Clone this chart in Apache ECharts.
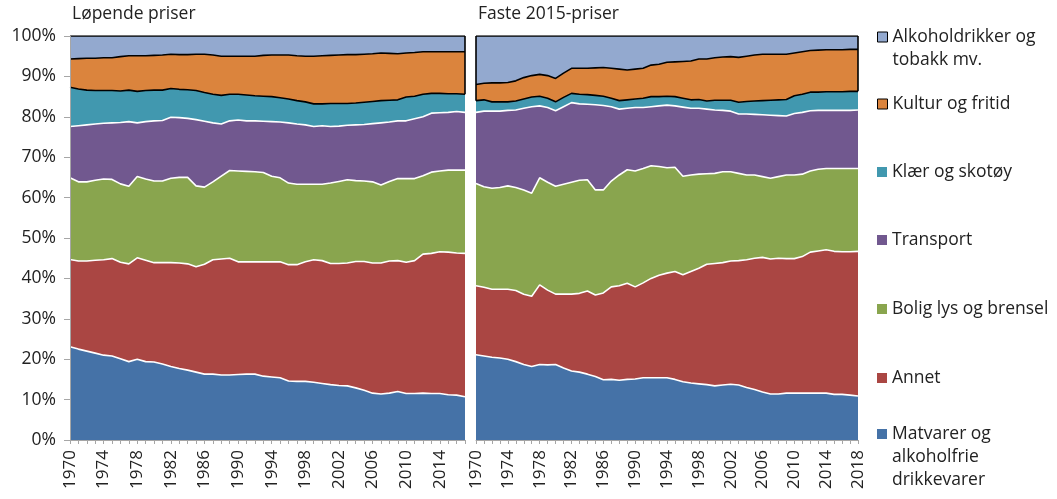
<!DOCTYPE html>
<html>
<head>
<meta charset="utf-8">
<script src="https://cdn.jsdelivr.net/npm/echarts@6/dist/echarts.min.js"></script>
<style>
html, body { margin: 0; padding: 0; background: #fff; }
#chart { width: 1057px; height: 499px; }
</style>
</head>
<body>
<div id="chart"></div>
<script>
// kategorier
var yearsF = ['1970','1971','1972','1973','1974','1975','1976','1977','1978','1979',
              '1980','1981','1982','1983','1984','1985','1986','1987','1988','1989',
              '1990','1991','1992','1993','1994','1995','1996','1997','1998','1999',
              '2000','2001','2002','2003','2004','2005','2006','2007','2008','2009',
              '2010','2011','2012','2013','2014','2015','2016','2017','2018'];
var yearsL = yearsF.slice(0, 48); // løpende priser går til 2017

var names = {
    mat: 'Matvarer og\nalkoholfrie\ndrikkevarer',
    annet: 'Annet',
    bolig: 'Bolig lys og brensel',
    trans: 'Transport',
    klaer: 'Klær og skotøy',
    kultur: 'Kultur og fritid',
    alko: 'Alkoholdrikker og\ntobakk mv.'
};

// Løpende priser, andel i prosent
var matL    = [23.1,22.5,22.0,21.5,21.0,20.8,20.1,19.4,20.0,19.4, 19.3,18.8,18.2,17.7,17.3,16.8,16.3,16.3,16.1,16.1,
               16.2,16.3,16.3,15.8,15.6,15.4,14.6,14.5,14.5,14.3, 14.0,13.7,13.5,13.4,12.9,12.3,11.6,11.4,11.6,12.0,
               11.5,11.5,11.6,11.5,11.5,11.2,11.1,10.7];
var annetL  = [21.6,21.8,22.3,23.0,23.6,24.1,23.9,24.2,25.1,25.1, 24.6,25.1,25.7,26.1,26.3,26.1,27.2,28.3,28.7,28.9,
               27.9,27.8,27.8,28.3,28.5,28.7,28.8,28.9,29.6,30.3, 30.4,30.0,30.2,30.4,31.3,31.9,32.2,32.4,32.7,32.4,
               32.5,32.9,34.4,34.7,35.1,35.3,35.2,35.5];
var boligL  = [20.2,19.6,19.6,19.8,20.0,19.6,19.4,19.2,20.1,20.1, 20.2,20.2,20.9,21.2,21.4,20.0,19.1,19.3,20.5,21.7,
               22.5,22.4,22.3,22.1,21.2,20.8,20.2,19.9,19.2,18.7, 18.9,19.9,20.3,20.6,20.0,19.9,20.1,19.3,19.7,20.3,
               20.7,20.3,19.4,20.1,20.0,20.3,20.5,20.6];
var transL  = [12.7,13.9,14.1,13.9,13.8,14.0,15.2,16.0,13.3,14.2, 14.9,15.0,15.1,14.8,14.6,16.4,16.3,14.6,12.9,12.3,
               12.6,12.5,12.6,12.7,13.5,13.8,14.9,14.9,14.7,14.3, 14.5,14.0,13.7,13.5,13.8,14.0,14.4,15.4,14.7,14.3,
               14.3,14.8,14.6,14.6,14.4,14.3,14.5,14.3];
var klaerL  = [9.7,9.1,8.6,8.3,8.1,8.0,7.8,7.8,7.8,7.7, 7.6,7.5,7.1,7.0,7.1,7.2,7.1,7.1,7.1,6.6,
               6.4,6.4,6.2,6.2,6.2,6.0,5.9,5.8,5.7,5.6, 5.4,5.7,5.6,5.4,5.4,5.5,5.5,5.5,5.4,5.2,
               5.9,5.6,5.6,4.9,4.8,4.6,4.4,4.5];
var kulturL = [7.0,7.5,7.9,8.0,8.1,8.1,8.5,8.5,8.8,8.6, 8.6,8.7,8.5,8.6,8.7,9.0,9.5,9.7,9.7,9.4,
               9.4,9.6,9.8,10.1,10.3,10.6,10.9,11.1,11.3,11.8, 11.9,11.9,12.0,12.1,12.0,11.9,11.8,11.8,11.6,11.4,
               10.9,10.8,10.5,10.3,10.3,10.4,10.4,10.5];
var alkoL   = [5.7,5.6,5.5,5.5,5.4,5.4,5.1,4.9,4.9,4.9, 4.8,4.7,4.5,4.6,4.6,4.5,4.5,4.7,5.0,5.0,
               5.0,5.0,5.0,4.8,4.7,4.7,4.7,4.9,5.0,5.0, 4.9,4.8,4.7,4.6,4.6,4.5,4.4,4.2,4.3,4.4,
               4.2,4.1,3.9,3.9,3.9,3.9,3.9,3.9];

// Faste 2015-priser, andel i prosent
var matF    = [21.1,20.8,20.5,20.3,20.0,19.4,18.7,18.2,18.7,18.6, 18.7,17.8,17.1,16.8,16.3,15.7,14.9,15.0,14.8,15.0,
               15.1,15.4,15.4,15.4,15.4,15.0,14.4,14.1,13.9,13.7, 13.4,13.6,13.8,13.6,13.0,12.5,11.9,11.4,11.4,11.6,
               11.6,11.6,11.6,11.6,11.6,11.3,11.3,11.1,10.9];
var annetF  = [17.1,17.0,16.8,17.0,17.3,17.6,17.4,17.4,19.7,18.5, 17.4,18.3,19.0,19.5,20.6,20.2,21.5,22.9,23.4,23.8,
               22.8,23.5,24.6,25.4,25.9,26.7,26.5,27.6,28.6,29.8, 30.3,30.3,30.5,30.8,31.6,32.5,33.3,33.4,33.6,33.3,
               33.3,33.8,34.9,35.2,35.5,35.4,35.3,35.5,35.8];
var boligF  = [25.3,24.9,25.0,25.2,25.6,25.5,25.8,25.5,26.5,26.7, 26.7,27.2,27.7,28.0,27.5,26.0,25.5,26.2,27.4,28.1,
               28.7,28.3,27.9,26.9,26.1,25.8,24.4,23.9,23.3,22.4, 22.3,22.5,22.1,21.6,21.0,20.6,20.0,20.0,20.2,20.7,
               20.7,20.4,20.1,20.2,20.1,20.5,20.6,20.6,20.5];
var transF  = [17.6,18.7,19.1,18.9,18.7,19.2,20.2,21.4,17.8,18.5, 18.7,19.2,19.7,18.9,18.7,21.1,20.9,18.4,16.3,15.2,
               15.7,15.1,14.6,15.0,15.5,15.2,17.1,16.5,16.3,16.0, 15.7,15.2,15.0,14.7,15.1,15.0,15.3,15.6,15.1,14.6,
               15.2,15.3,14.9,14.6,14.4,14.4,14.4,14.4,14.5];
var klaerF  = [2.9,2.8,2.3,2.3,2.1,2.2,2.3,2.4,2.4,2.3, 2.2,2.3,2.3,2.4,2.4,2.3,2.3,2.1,2.1,2.1,
               2.1,2.3,2.5,2.3,2.2,2.3,2.2,2.1,2.2,2.0, 2.4,2.5,2.7,2.9,3.1,3.3,3.5,3.7,3.9,4.1,
               4.4,4.5,4.6,4.5,4.6,4.6,4.6,4.7,4.6];
var kulturF = [4.0,4.1,4.7,4.7,4.8,5.0,5.3,5.3,5.4,5.6, 5.8,6.0,6.2,6.4,6.5,6.8,7.1,7.4,7.8,7.4,
               7.4,7.4,7.8,8.0,8.4,8.6,9.1,9.6,10.0,10.4, 10.5,10.7,10.8,11.1,11.2,11.4,11.5,11.4,11.3,11.2,
               10.6,10.5,10.3,10.4,10.4,10.4,10.4,10.4,10.4];
var alkoF   = [12.0,11.7,11.6,11.6,11.5,11.1,10.3,9.8,9.5,9.8, 10.5,9.2,8.0,8.0,8.0,7.9,7.8,8.0,8.2,8.4,
               8.2,8.0,7.2,7.0,6.5,6.4,6.3,6.2,5.7,5.7, 5.4,5.2,5.1,5.3,5.0,4.7,4.5,4.5,4.5,4.5,
               4.2,3.9,3.6,3.5,3.4,3.4,3.4,3.3,3.3];

var yTicks = [0, 10, 20, 30, 40, 50, 60, 70, 80, 90, 100];

var colors = {
    mat: '#4572A7', annet: '#AA4643', bolig: '#89A54E', trans: '#71588F',
    klaer: '#4198AF', kultur: '#DB843D', alko: '#93A9CF'
};
var fontName = 'Open Sans';
var fontSize = 17.5;
var textColor = '#222';
var axisGray = '#a6a6a6';

var chart = echarts.init(document.getElementById('chart'));

function area(key, data, edge, idx, z) {
    return {
        name: names[key],
        type: 'line',
        stack: 'sum' + idx,
        xAxisIndex: idx,
        yAxisIndex: idx,
        data: data,
        z: z,
        symbol: 'none',
        showSymbol: false,
        silent: true,
        lineStyle: { color: edge, width: 1.6 },
        areaStyle: { color: colors[key], opacity: 1 },
        itemStyle: { color: colors[key] },
        emphasis: { disabled: true }
    };
}

// svart kant rundt de to øverste feltene ved endene
function edge(years, i, alko, kultur) {
    var y0 = 100 - alko[i] - kultur[i];
    return [{ coord: [years[i], y0] }, { coord: [years[i], 100] }];
}

var seriesList = [];
[['L', yearsL, [matL, annetL, boligL, transL, klaerL, kulturL, alkoL]],
 ['F', yearsF, [matF, annetF, boligF, transF, klaerF, kulturF, alkoF]]].forEach(function (p, idx) {
    var d = p[2];
    seriesList.push(area('mat', d[0], '#fff', idx, 9));
    seriesList.push(area('annet', d[1], '#fff', idx, 8));
    seriesList.push(area('bolig', d[2], '#fff', idx, 7));
    seriesList.push(area('trans', d[3], '#fff', idx, 6));
    seriesList.push(area('klaer', d[4], '#000', idx, 5));
    seriesList.push(area('kultur', d[5], '#000', idx, 4));
    var top = area('alko', d[6], '#000', idx, 3);
    var last = p[1].length - 1;
    var lines = [edge(p[1], last, d[6], d[5])];
    if (idx === 1) lines.push(edge(p[1], 0, d[6], d[5]));
    top.markLine = {
        silent: true,
        symbol: 'none',
        label: { show: false },
        lineStyle: { color: '#000', width: 1.6, type: 'solid' },
        data: lines
    };
    seriesList.push(top);
});

// legende, en per element for å plassere dem fritt
// iconTop = øvre kant på fargeruten
var legendItems = [
    { key: 'alko',   iconTop: 32,  lines: 2, border: true },
    { key: 'kultur', iconTop: 99,  lines: 1, border: true },
    { key: 'klaer',  iconTop: 167, lines: 1, border: false },
    { key: 'trans',  iconTop: 235, lines: 1, border: false },
    { key: 'bolig',  iconTop: 304, lines: 1, border: false },
    { key: 'annet',  iconTop: 373, lines: 1, border: false },
    { key: 'mat',    iconTop: 429, lines: 3, border: false }
];
var lh = 23;
var legends = legendItems.map(function (it) {
    // tomme linjer foran, slik at første tekstlinje står midt på ruten
    var pre = new Array(it.lines).join('\n');
    var total = 2 * it.lines - 1;
    return {
        left: 877,
        top: it.iconTop + 5 - total * lh / 2,
        orient: 'vertical',
        padding: 0,
        itemWidth: 10,
        itemHeight: 10,
        itemGap: 0,
        selectedMode: false,
        icon: 'rect',
        formatter: function (name) { return pre + name; },
        textStyle: {
            fontFamily: fontName, fontSize: fontSize, color: textColor, lineHeight: lh
        },
        data: [{
            name: names[it.key],
            itemStyle: {
                color: colors[it.key],
                borderColor: it.border ? '#000' : colors[it.key],
                borderWidth: it.border ? 1 : 0
            }
        }]
    };
});

function xAxis(years, idx) {
    return {
        type: 'category',
        gridIndex: idx,
        data: years,
        boundaryGap: false,
        z: 20,
        axisLine: { lineStyle: { color: axisGray, width: 1 } },
        axisTick: { interval: 0, length: 4, lineStyle: { color: axisGray } },
        axisLabel: {
            interval: 3, rotate: 90, margin: 10,
            fontFamily: fontName, fontSize: 17, color: textColor
        },
        splitLine: { show: false }
    };
}

var titleStyle = { fontFamily: fontName, fontSize: fontSize, fontWeight: 'normal', color: textColor };

var options = {
    animation: false,
    backgroundColor: '#fff',
    title: [
        { text: 'Løpende priser', left: 72, top: 5, padding: 0, textStyle: titleStyle },
        { text: 'Faste 2015-priser', left: 478, top: 5, padding: 0, textStyle: titleStyle }
    ],
    legend: legends,
    grid: [
        { left: 70, top: 36, width: 395, height: 404 },
        { left: 476, top: 36, width: 382, height: 404 }
    ],
    xAxis: [xAxis(yearsL, 0), xAxis(yearsF, 1)],
    yAxis: [
        {
            type: 'value', gridIndex: 0, min: yTicks[0], max: yTicks[yTicks.length - 1], interval: 10,
            z: 20,
            axisLine: { show: true, lineStyle: { color: axisGray } },
            axisTick: { show: true, length: 6, lineStyle: { color: axisGray } },
            axisLabel: { formatter: '{value}%', margin: 14,
                         fontFamily: fontName, fontSize: fontSize, color: textColor },
            splitLine: { show: false }
        },
        {
            type: 'value', gridIndex: 1, min: yTicks[0], max: yTicks[yTicks.length - 1], interval: 10,
            axisLine: { show: false }, axisTick: { show: false }, axisLabel: { show: false },
            splitLine: { show: false }
        }
    ],
    series: seriesList
};

chart.setOption(options);
</script>
</body>
</html>
